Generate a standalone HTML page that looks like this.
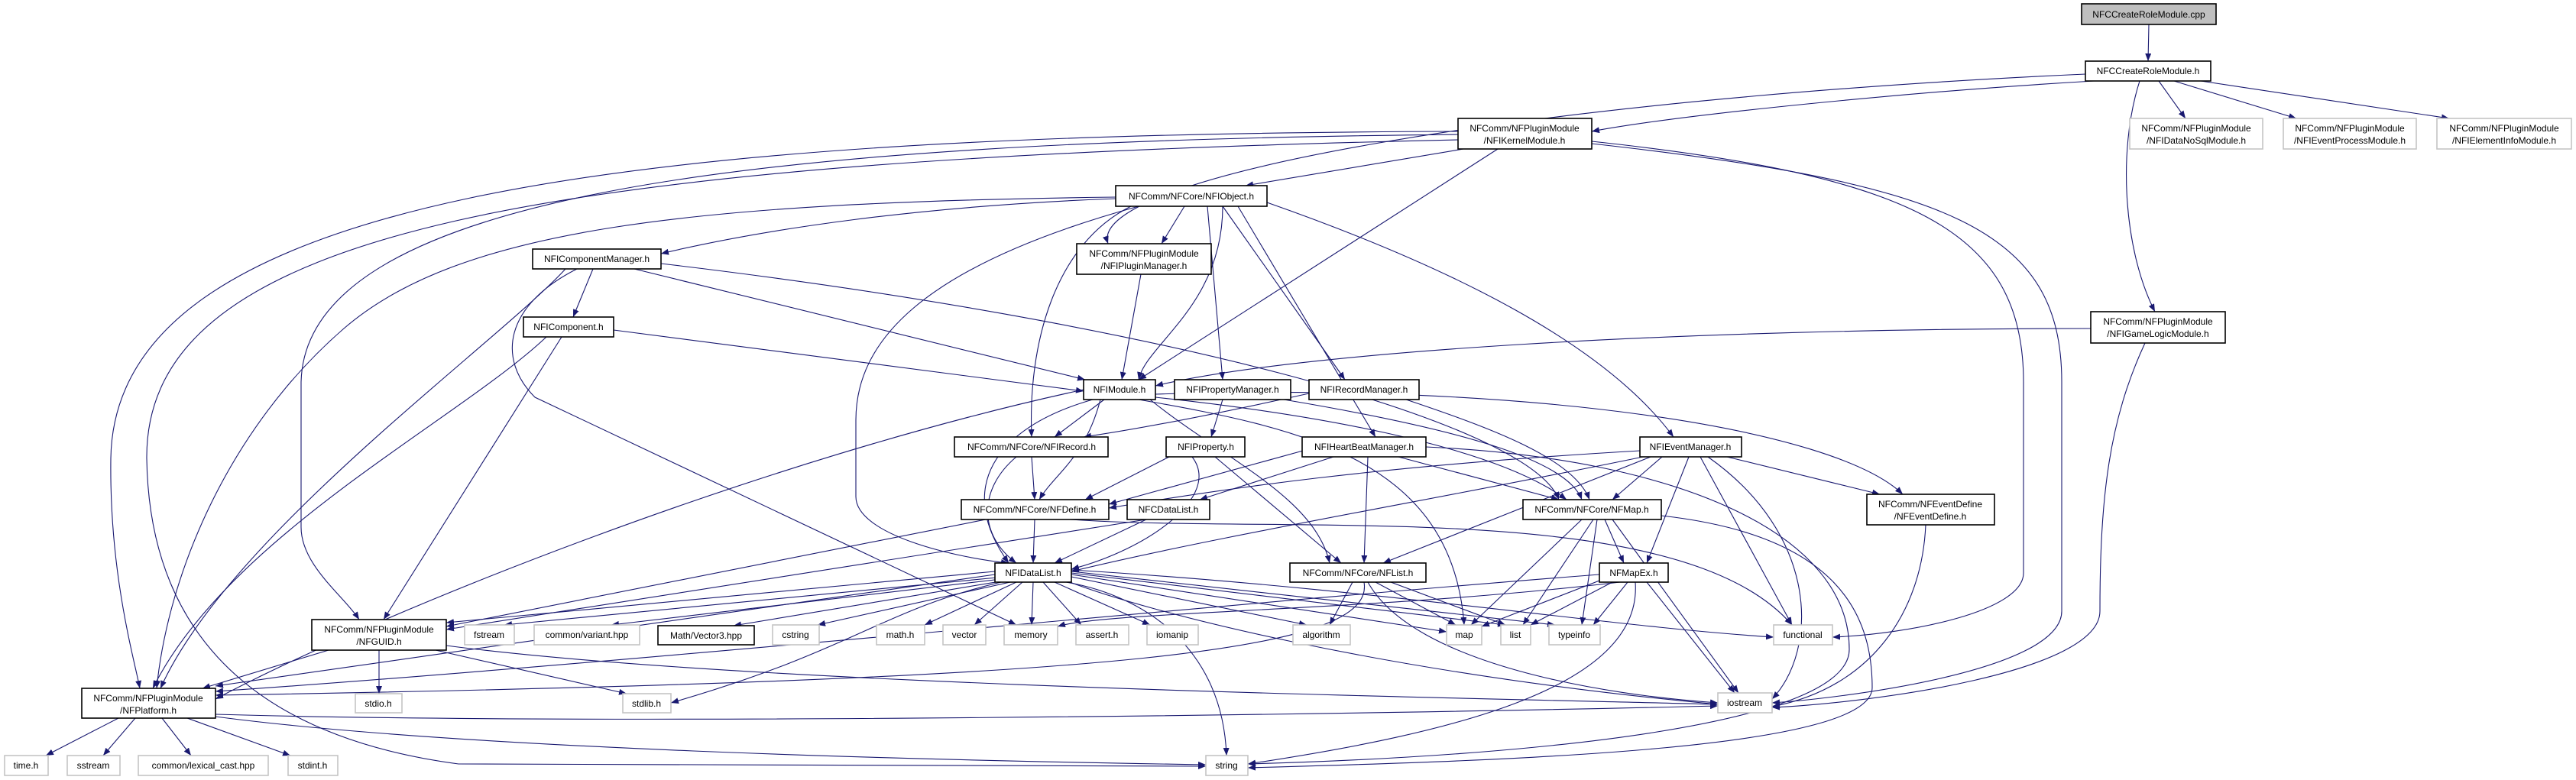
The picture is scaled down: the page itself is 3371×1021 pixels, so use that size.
<!DOCTYPE html>
<html><head><meta charset="utf-8"><style>
html,body{margin:0;padding:0;background:#fff;}
svg{display:block;}
text{font-family:"Liberation Sans",sans-serif;font-size:12px;fill:#000;text-anchor:middle;}
.n rect{fill:#fff;stroke:#000;stroke-width:1.6;}
.x rect{fill:#fff;stroke:#c4c4c4;stroke-width:1.6;}
.e path{fill:none;stroke:#191970;stroke-width:1.1;marker-end:url(#a);}
</style></head><body>
<svg width="3371" height="1021" viewBox="0 0 3371 1021" xmlns="http://www.w3.org/2000/svg">
<defs><marker id="a" viewBox="0 0 10 8" refX="10" refY="4" markerWidth="10" markerHeight="8" markerUnits="userSpaceOnUse" orient="auto"><path d="M0,0 L10,4 L0,8 z" fill="#191970"/></marker></defs>
<rect width="3371" height="1021" fill="#fff"/>
<g class="e">
<path d="M2812,32 L2811,80"/>
<path d="M2740,106 C2500,120 2200,150 2083,172"/>
<path d="M2825,106 L2860,155"/>
<path d="M2845,106 L3005,155"/>
<path d="M2880,106 L3205,155"/>
<path d="M2800,106 C2770,200 2780,330 2820,408"/>
<path d="M2729,97 C2000,130 1420,230 1450,319"/>
<path d="M1915,195 L1630,243"/>
<path d="M1960,195 L1490,497"/>
<path d="M1908,176 C1000,185 400,250 394,500 L394,690 C394,740 450,780 470,811"/>
<path d="M1908,172 C800,175 150,260 145,600 C143,750 175,860 183,901"/>
<path d="M1908,183 C700,210 190,300 192,600 C195,800 300,960 600,1000 L1578,1003"/>
<path d="M2083,185 C2500,230 2648,300 2648,500 L2648,750 C2648,800 2500,830 2398,834"/>
<path d="M2083,188 C2550,240 2698,300 2698,500 L2698,800 C2698,880 2400,915 2319,920"/>
<path d="M1460,260 C1200,270 1000,300 865,332"/>
<path d="M1550,270 L1520,319"/>
<path d="M1600,270 C1600,400 1500,450 1490,497"/>
<path d="M1480,270 C1380,320 1345,450 1350,572"/>
<path d="M1580,270 L1600,497"/>
<path d="M1600,270 L1760,497"/>
<path d="M1620,270 L1800,572"/>
<path d="M1658,265 C1900,350 2100,450 2190,572"/>
<path d="M1490,270 C1200,350 1120,450 1120,550 L1120,650 C1120,700 1250,730 1320,737"/>
<path d="M1460,258 C900,265 600,300 450,430 C300,560 220,750 205,901"/>
<path d="M776,352 L750,415"/>
<path d="M830,352 L1420,497"/>
<path d="M865,345 C1500,420 2000,550 2040,654"/>
<path d="M755,352 C660,400 650,470 700,520 L1330,818"/>
<path d="M740,352 C650,450 300,700 210,901"/>
<path d="M803,432 L1418,512"/>
<path d="M715,441 C600,550 300,700 200,901"/>
<path d="M735,441 L502,811"/>
<path d="M1493,359 L1468,497"/>
<path d="M2736,430 C2200,430 1700,460 1512,505"/>
<path d="M2807,449 C2760,550 2748,650 2748,800 C2748,880 2450,920 2319,926"/>
<path d="M1445,523 L1380,572"/>
<path d="M1430,523 C1300,560 1250,640 1320,737"/>
<path d="M1440,523 C1420,600 1380,620 1360,654"/>
<path d="M1512,520 C1700,540 1950,580 2050,654"/>
<path d="M1505,523 C1600,600 1720,650 1740,737"/>
<path d="M1490,523 C1700,560 1900,600 1916,818"/>
<path d="M1512,516 C2000,500 2400,560 2490,647"/>
<path d="M1418,510 C1000,600 500,800 282,915"/>
<path d="M1600,523 L1585,572"/>
<path d="M1680,523 C1900,560 2050,600 2070,654"/>
<path d="M1713,515 C1600,540 1500,560 1418,572"/>
<path d="M1840,523 C1950,560 2060,600 2080,654"/>
<path d="M1350,598 L1354,654"/>
<path d="M1330,598 C1280,640 1280,700 1330,737"/>
<path d="M1530,598 L1420,654"/>
<path d="M1560,598 C1600,650 1500,720 1402,745"/>
<path d="M1590,598 L1755,737"/>
<path d="M1705,590 L1451,660"/>
<path d="M1745,598 L1570,654"/>
<path d="M1790,598 L1785,737"/>
<path d="M1830,598 L2040,654"/>
<path d="M1866,585 C2200,600 2420,700 2420,850 C2420,950 2000,990 1633,1000"/>
<path d="M2146,590 C1800,610 1600,640 1451,665"/>
<path d="M2150,598 C1900,650 1600,700 1402,748"/>
<path d="M2160,598 L1810,737"/>
<path d="M2175,598 L2110,654"/>
<path d="M2210,598 L2155,737"/>
<path d="M2260,598 L2460,647"/>
<path d="M2225,598 L2345,818"/>
<path d="M2235,598 C2380,700 2380,850 2319,915"/>
<path d="M1354,680 L1352,737"/>
<path d="M1290,680 L584,820"/>
<path d="M1400,680 C1700,700 2200,650 2345,818"/>
<path d="M1500,680 L1380,737"/>
<path d="M1500,680 L584,824"/>
<path d="M2100,680 L2125,737"/>
<path d="M2070,680 L1925,818"/>
<path d="M2085,680 L1993,818"/>
<path d="M2090,680 L2070,818"/>
<path d="M2110,680 L2275,907"/>
<path d="M2174,675 C2400,700 2450,800 2450,900 C2450,980 2000,995 1633,1005"/>
<path d="M2093,760 L1939,820"/>
<path d="M2110,762 L2003,818"/>
<path d="M2130,762 L2085,818"/>
<path d="M2155,762 L2270,907"/>
<path d="M2093,752 C1600,790 800,870 282,905"/>
<path d="M2140,762 C2150,900 1900,960 1633,1000"/>
<path d="M2120,762 C1800,800 1450,800 1384,820"/>
<path d="M1770,762 L1740,818"/>
<path d="M1800,762 L1905,818"/>
<path d="M1820,762 L1970,818"/>
<path d="M1790,762 C1850,870 2100,910 2248,920"/>
<path d="M1785,762 C1800,850 1500,890 282,910"/>
<path d="M1302,748 L584,815"/>
<path d="M1302,752 L282,898"/>
<path d="M1305,756 L660,818"/>
<path d="M1310,758 L800,818"/>
<path d="M1315,760 L960,819"/>
<path d="M1322,762 L1070,818"/>
<path d="M1330,762 L1210,818"/>
<path d="M1338,762 L1275,818"/>
<path d="M1352,762 L1350,818"/>
<path d="M1365,762 L1415,818"/>
<path d="M1380,762 L1505,818"/>
<path d="M1402,755 L1710,818"/>
<path d="M1402,752 L1893,827"/>
<path d="M1402,750 L1970,818"/>
<path d="M1402,748 L2035,818"/>
<path d="M1402,746 C1800,770 2100,820 2321,834"/>
<path d="M1400,762 C1500,800 1800,880 2248,922"/>
<path d="M1395,762 C1500,780 1600,850 1605,989"/>
<path d="M1310,762 C1150,800 1120,850 878,920"/>
<path d="M2520,687 C2515,800 2450,900 2319,925"/>
<path d="M430,851 L265,901"/>
<path d="M496,851 L496,908"/>
<path d="M570,851 L820,908"/>
<path d="M584,845 C1000,900 2000,915 2248,922"/>
<path d="M155,940 L60,989"/>
<path d="M177,940 L135,989"/>
<path d="M212,940 L250,989"/>
<path d="M245,940 L380,989"/>
<path d="M282,938 C600,980 1200,995 1578,1001"/>
<path d="M282,935 C800,950 1800,935 2248,924"/>
</g>
<g class="n"><rect x="2724" y="5" width="176" height="27" style="fill:#bfbfbf"/><text x="2812" y="23">NFCCreateRoleModule.cpp</text></g>
<g class="n"><rect x="2729" y="80" width="164" height="26"/><text x="2811" y="97">NFCCreateRoleModule.h</text></g>
<g class="n"><rect x="1908" y="155" width="175" height="40"/><text x="1995" y="172">NFComm/NFPluginModule</text><text x="1995" y="188">/NFIKernelModule.h</text></g>
<g class="x"><rect x="2787" y="155" width="174" height="40"/><text x="2874" y="172">NFComm/NFPluginModule</text><text x="2874" y="188">/NFIDataNoSqlModule.h</text></g>
<g class="x"><rect x="2988" y="155" width="174" height="40"/><text x="3075" y="172">NFComm/NFPluginModule</text><text x="3075" y="188">/NFIEventProcessModule.h</text></g>
<g class="x"><rect x="3189" y="155" width="176" height="40"/><text x="3277" y="172">NFComm/NFPluginModule</text><text x="3277" y="188">/NFIElementInfoModule.h</text></g>
<g class="n"><rect x="1460" y="243" width="198" height="27"/><text x="1559" y="261">NFComm/NFCore/NFIObject.h</text></g>
<g class="n"><rect x="697" y="326" width="168" height="26"/><text x="781" y="343">NFIComponentManager.h</text></g>
<g class="n"><rect x="1409" y="319" width="176" height="40"/><text x="1497" y="336">NFComm/NFPluginModule</text><text x="1497" y="352">/NFIPluginManager.h</text></g>
<g class="n"><rect x="685" y="415" width="118" height="26"/><text x="744" y="432">NFIComponent.h</text></g>
<g class="n"><rect x="2736" y="408" width="176" height="41"/><text x="2824" y="425">NFComm/NFPluginModule</text><text x="2824" y="441">/NFIGameLogicModule.h</text></g>
<g class="n"><rect x="1418" y="497" width="94" height="26"/><text x="1465" y="514">NFIModule.h</text></g>
<g class="n"><rect x="1537" y="497" width="152" height="26"/><text x="1613" y="514">NFIPropertyManager.h</text></g>
<g class="n"><rect x="1713" y="497" width="144" height="26"/><text x="1785" y="514">NFIRecordManager.h</text></g>
<g class="n"><rect x="1249" y="572" width="201" height="26"/><text x="1350" y="589">NFComm/NFCore/NFIRecord.h</text></g>
<g class="n"><rect x="1526" y="572" width="103" height="26"/><text x="1578" y="589">NFIProperty.h</text></g>
<g class="n"><rect x="1704" y="572" width="162" height="26"/><text x="1785" y="589">NFIHeartBeatManager.h</text></g>
<g class="n"><rect x="2146" y="572" width="133" height="26"/><text x="2212" y="589">NFIEventManager.h</text></g>
<g class="n"><rect x="1258" y="654" width="193" height="26"/><text x="1354" y="671">NFComm/NFCore/NFDefine.h</text></g>
<g class="n"><rect x="1475" y="654" width="108" height="26"/><text x="1529" y="671">NFCDataList.h</text></g>
<g class="n"><rect x="1993" y="654" width="181" height="26"/><text x="2083" y="671">NFComm/NFCore/NFMap.h</text></g>
<g class="n"><rect x="2443" y="647" width="167" height="40"/><text x="2526" y="664">NFComm/NFEventDefine</text><text x="2526" y="680">/NFEventDefine.h</text></g>
<g class="n"><rect x="1688" y="737" width="178" height="25"/><text x="1777" y="754">NFComm/NFCore/NFList.h</text></g>
<g class="n"><rect x="2093" y="737" width="90" height="25"/><text x="2138" y="754">NFMapEx.h</text></g>
<g class="n"><rect x="1302" y="737" width="100" height="25"/><text x="1352" y="754">NFIDataList.h</text></g>
<g class="n"><rect x="408" y="811" width="176" height="40"/><text x="496" y="828">NFComm/NFPluginModule</text><text x="496" y="844">/NFGUID.h</text></g>
<g class="n"><rect x="107" y="901" width="175" height="39"/><text x="194" y="918">NFComm/NFPluginModule</text><text x="194" y="934">/NFPlatform.h</text></g>
<g class="n"><rect x="861" y="819" width="126" height="25"/><text x="924" y="836">Math/Vector3.hpp</text></g>
<g class="x">
<rect x="608" y="818" width="65" height="26"/><text x="640" y="835">fstream</text>
<rect x="699" y="818" width="138" height="26"/><text x="768" y="835">common/variant.hpp</text>
<rect x="1011" y="818" width="61" height="26"/><text x="1041" y="835">cstring</text>
<rect x="1147" y="818" width="63" height="26"/><text x="1178" y="835">math.h</text>
<rect x="1234" y="818" width="56" height="26"/><text x="1262" y="835">vector</text>
<rect x="1314" y="818" width="70" height="26"/><text x="1349" y="835">memory</text>
<rect x="1408" y="818" width="69" height="26"/><text x="1442" y="835">assert.h</text>
<rect x="1501" y="818" width="67" height="26"/><text x="1534" y="835">iomanip</text>
<rect x="1692" y="818" width="75" height="26"/><text x="1729" y="835">algorithm</text>
<rect x="1893" y="818" width="46" height="26"/><text x="1916" y="835">map</text>
<rect x="1964" y="818" width="39" height="26"/><text x="1983" y="835">list</text>
<rect x="2027" y="818" width="67" height="26"/><text x="2060" y="835">typeinfo</text>
<rect x="2321" y="818" width="77" height="26"/><text x="2359" y="835">functional</text>
<rect x="465" y="908" width="61" height="25"/><text x="495" y="925">stdio.h</text>
<rect x="815" y="908" width="63" height="25"/><text x="846" y="925">stdlib.h</text>
<rect x="2248" y="907" width="71" height="26"/><text x="2283" y="924">iostream</text>
<rect x="6" y="989" width="57" height="26"/><text x="34" y="1006">time.h</text>
<rect x="88" y="989" width="69" height="26"/><text x="122" y="1006">sstream</text>
<rect x="181" y="989" width="170" height="26"/><text x="266" y="1006">common/lexical_cast.hpp</text>
<rect x="377" y="989" width="65" height="26"/><text x="409" y="1006">stdint.h</text>
<rect x="1578" y="989" width="55" height="26"/><text x="1605" y="1006">string</text>
</g>
</svg>
</body></html>
